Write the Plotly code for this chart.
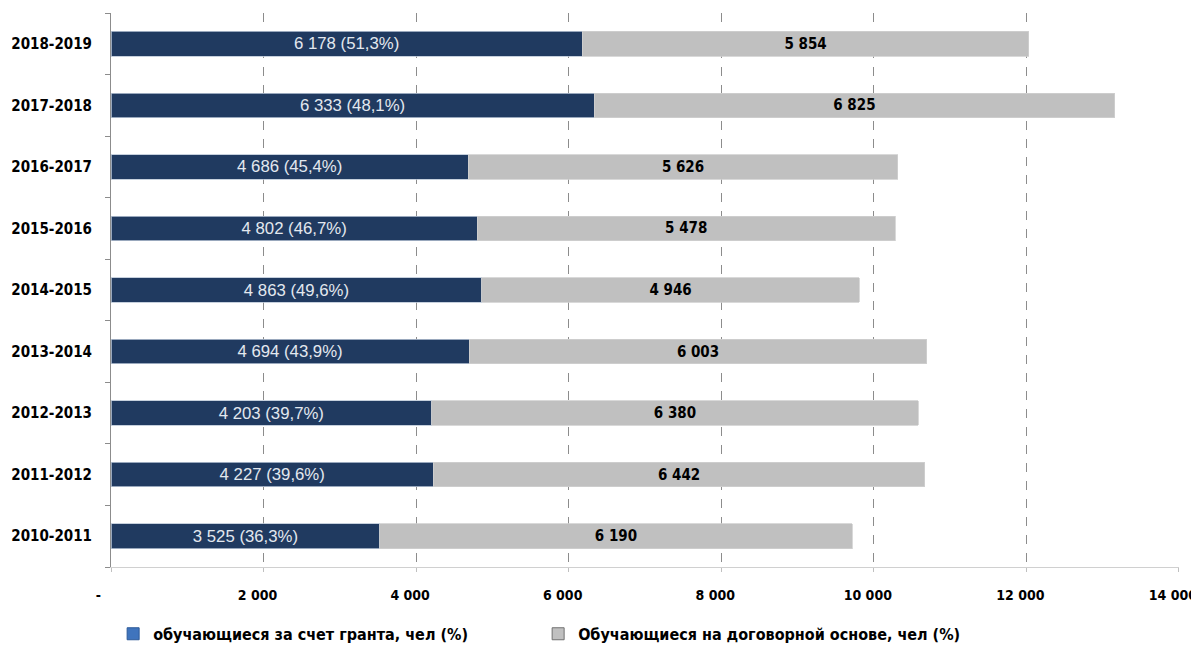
import plotly.graph_objects as go

years = ["2010-2011", "2011-2012", "2012-2013", "2013-2014", "2014-2015",
         "2015-2016", "2016-2017", "2017-2018", "2018-2019"]
grant = [3525, 4227, 4203, 4694, 4863, 4802, 4686, 6333, 6178]
grant_pct = ["36,3", "39,6", "39,7", "43,9", "49,6", "46,7", "45,4", "48,1", "51,3"]
contract = [6190, 6442, 6380, 6003, 4946, 5478, 5626, 6825, 5854]
xtick_vals = [0, 2000, 4000, 6000, 8000, 10000, 12000, 14000]
xtick_text = ["-&nbsp;&nbsp;&nbsp;", "2 000", "4 000", "6 000", "8 000",
              "10 000", "12 000", "14 000"]
legend_names = ["обучающиеся за счет гранта, чел (%)",
                "Обучающиеся на договорной основе, чел (%)"]

BOLDF = "DejaVu Sans Condensed, Liberation Sans Narrow, Liberation Sans, Arial"
REG = "Liberation Sans, Arial"


def fmt(v):
    return f"{v:,}".replace(",", " ")


grant_text = [f"{fmt(v)} ({p}%)" for v, p in zip(grant, grant_pct)]
contract_text = [f"<b>{fmt(v)}</b>" for v in contract]

fig = go.Figure()
fig.add_trace(go.Bar(
    y=years, x=grant, orientation="h", text=grant_text,
    textposition="inside", insidetextanchor="middle",
    textfont=dict(family=REG, size=18, color="#e3e8ef"),
    marker=dict(color="#203a60", line=dict(color="#b8c4d4", width=0.8)),
    showlegend=False, hoverinfo="skip",
))
fig.add_trace(go.Bar(
    y=years, x=contract, orientation="h", text=contract_text,
    textposition="inside", insidetextanchor="middle",
    textfont=dict(family=BOLDF, size=15, color="#000000"),
    marker=dict(color="#c0c0c0", line=dict(color="#d0d0d0", width=0.8)),
    showlegend=False, hoverinfo="skip",
))
# legend entries
fig.add_trace(go.Bar(
    y=[None], x=[None], orientation="h", name=f"<b>{legend_names[0]}</b>",
    marker=dict(color="#3f74bd", line=dict(color="#2c5a99", width=1)),
))
fig.add_trace(go.Bar(
    y=[None], x=[None], orientation="h", name=f"<b>{legend_names[1]}</b>",
    marker=dict(color="#c0c0c0", line=dict(color="#707070", width=1)),
))

# the page body has an 8px margin, so the figure is offset by 8px right/down
fig.update_layout(
    width=1191, height=637,
    margin=dict(l=103, r=20, t=5, b=78, autoexpand=False),
    barmode="stack", bargap=0.6,
    plot_bgcolor="white", paper_bgcolor="white",
    font=dict(family=BOLDF, color="#000000"),
    xaxis=dict(
        range=[0, 14001], tickvals=xtick_vals,
        ticktext=[f"<b>{t}</b>" for t in xtick_text],
        tickfont=dict(family=BOLDF, size=14, color="#000000"),
        showgrid=True, gridcolor="#8c8c8c", griddash="dash", gridwidth=1,
        zeroline=False, showline=True, linecolor="#d0d0d0", linewidth=1,
        ticks="outside", ticklen=4, tickcolor="#c0c0c0",
        ticklabelstandoff=11, ticklabelshift=-6,
        automargin=False, ticklabeloverflow="allow",
    ),
    yaxis=dict(
        categoryorder="array", categoryarray=years, type="category",
        tickvals=years, ticktext=[f"<b>{y}</b>" for y in years],
        tickfont=dict(family=BOLDF, size=15, color="#000000"),
        showline=True, linecolor="#8c8c8c", linewidth=1,
        ticks="outside", tickson="boundaries", ticklen=5, tickcolor="#8c8c8c",
        showgrid=False, zeroline=False, ticklabelstandoff=15,
        automargin=False,
    ),
    legend=dict(
        orientation="h", x=0.002, y=-0.09, xanchor="left", yanchor="top",
        font=dict(family=BOLDF, size=16, color="#000000"),
        entrywidth=380, traceorder="normal",
    ),
)

fig.write_html("out.html")
